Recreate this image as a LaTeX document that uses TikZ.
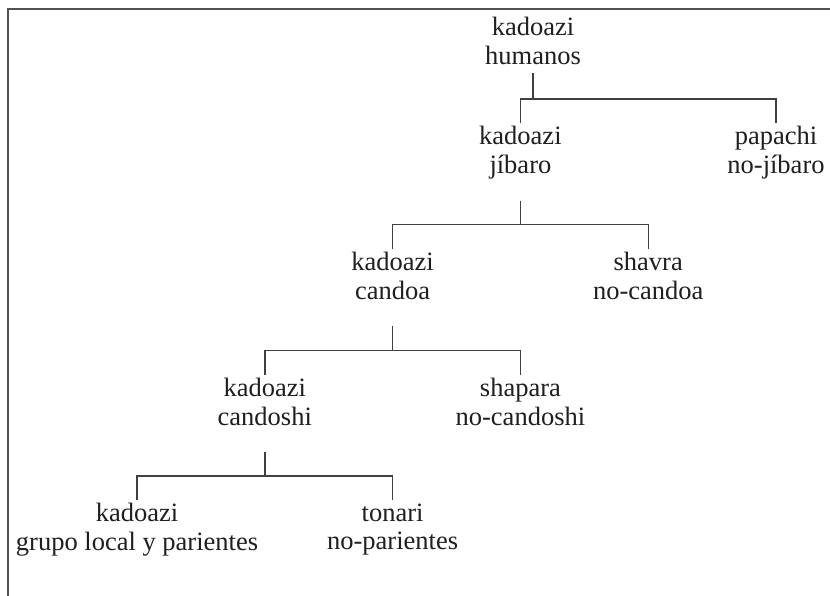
\documentclass[tikz,border=0pt]{standalone}
\usepackage{fontspec}
\setmainfont{Liberation Serif}
\tikzset{
  lbl/.style={align=center, anchor=north, inner sep=0pt,
    font=\fontsize{26.5}{28.8}\selectfont, text=black!88,
    execute at begin node=\strut, execute at end node=\strut},
  tree/.style={draw=black!75, line width=1.4pt},
  framelines/.style={draw=black!68, line width=1.9pt},
}
\begin{document}
\begin{tikzpicture}[x=1pt,y=-1pt]
\useasboundingbox (0,0) rectangle (830,596);
% frame (top and left edges only)
\coordinate (ftr) at (830,9);
\coordinate (ftl) at (8,9);
\coordinate (fbl) at (8,596);
\draw[framelines] (ftr) -- (ftl) -- (fbl);
% labels
\node[lbl] (h)   at (533,17.1)    {kadoazi\\humanos};
\node[lbl] (j)   at (520.4,126.3) {kadoazi\\jíbaro};
\node[lbl] (nj)  at (776,126.3)   {papachi\\no-jíbaro};
\node[lbl] (ca)  at (392.6,252)   {kadoazi\\candoa};
\node[lbl] (nca) at (648.2,252)   {shavra\\no-candoa};
\node[lbl] (cd)  at (264.8,377.7) {kadoazi\\candoshi};
\node[lbl] (ncd) at (520.4,377.7) {shapara\\no-candoshi};
\node[lbl] (gl)  at (137,503.4)   {kadoazi\\grupo local y parientes};
\node[lbl] (np)  at (392.6,503.4) {tonari\\no-parientes};
% junctions
\coordinate (b0) at (533,99);
\coordinate (b1) at (520.4,224.7);
\coordinate (b2) at (392.6,350.4);
\coordinate (b3) at (264.8,476.1);
% connectors
\draw[tree] (h.south) -- (b0);
\draw[tree] ([yshift=3pt]j.north) |- (b0) -| ([yshift=3pt]nj.north);
\draw[tree] ([yshift=-18pt]j.south) -- (b1);
\draw[tree] ([yshift=3pt]ca.north) |- (b1) -| ([yshift=3pt]nca.north);
\draw[tree] ([yshift=-18pt]ca.south) -- (b2);
\draw[tree] ([yshift=3pt]cd.north) |- (b2) -| ([yshift=3pt]ncd.north);
\draw[tree] ([yshift=-18pt]cd.south) -- (b3);
\draw[tree] ([yshift=3pt]gl.north) |- (b3) -| ([yshift=3pt]np.north);
\end{tikzpicture}
\end{document}
